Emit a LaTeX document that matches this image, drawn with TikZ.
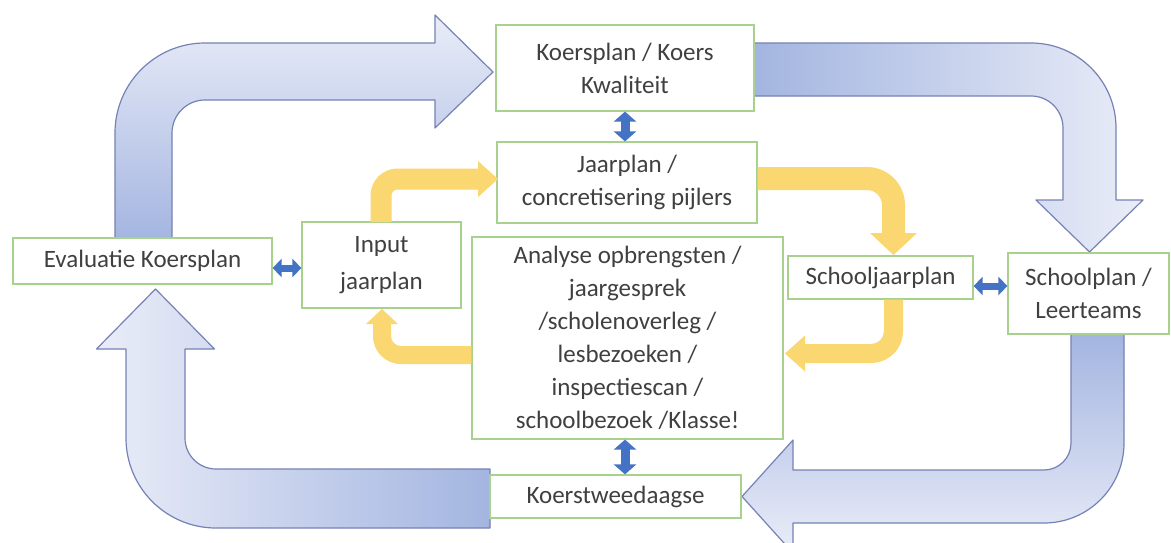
\documentclass[tikz,border=0pt]{standalone}
\usepackage{fontspec}
\setmainfont{Carlito}
\usetikzlibrary{arrows.meta}
\definecolor{bdark}{RGB}{163,181,224}
\definecolor{blight}{RGB}{234,237,248}
\definecolor{bline}{RGB}{118,130,182}
\definecolor{ylw}{RGB}{250,215,112}
\definecolor{gbox}{RGB}{169,209,142}
\definecolor{dblue}{RGB}{68,114,196}
\definecolor{txt}{RGB}{64,64,64}
\begin{document}
\begin{tikzpicture}[x=1pt,y=-1pt,
  box/.style={draw=gbox, line width=1.2pt, fill=white, inner sep=0pt, align=center,
              text=txt, font=\fontsize{25}{33}\selectfont},
  bigarrow/.style={draw=bline, line width=1.2pt, line join=round},
  ylwarrow/.style={fill=ylw},
  twoway/.style={dblue, line width=9pt, {Triangle[width=22pt,length=10pt]}-{Triangle[width=22pt,length=10pt]}},
  twowayh/.style={dblue, line width=7pt, {Triangle[width=18pt,length=9pt]}-{Triangle[width=18pt,length=9pt]}}
]
\clip (0,0) rectangle (1171,542);
\fill[white] (0,0) rectangle (1171,542);

% big blue arrows
\path[bigarrow, top color=blight, bottom color=bdark]
  (115,240) -- (115,133) .. controls (115,83.3) and (155.3,43) .. (205,43) -- (435,43)
  -- (435,15) -- (493,72) -- (435,128) -- (435,100) -- (205,100)
  .. controls (186.8,100) and (172,114.8) .. (172,133) -- (172,240) -- cycle;
\path[bigarrow, left color=bdark, right color=blight]
  (754,43) -- (1031,43) .. controls (1077.9,43) and (1116,81.1) .. (1116,128) -- (1116,200)
  -- (1143,200) -- (1089.5,252) -- (1036,200) -- (1063,200) -- (1063,128)
  .. controls (1063,110.3) and (1048.7,96) .. (1031,96) -- (754,96) -- cycle;
\path[bigarrow, top color=bdark, bottom color=blight]
  (1071,334) -- (1071,443) .. controls (1071,457.9) and (1058.9,470) .. (1044,470) -- (793,470)
  -- (793,440) -- (742,496.5) -- (793,553) -- (793,523) -- (1044,523)
  .. controls (1088.2,523) and (1124,487.2) .. (1124,443) -- (1124,334) -- cycle;
\path[bigarrow, left color=blight, right color=bdark]
  (490,469) -- (216,469) .. controls (198.9,469) and (185,455.1) .. (185,438) -- (185,349)
  -- (214.5,349) -- (155.5,289) -- (96.5,349) -- (126,349) -- (126,438)
  .. controls (126,487.7) and (166.3,528) .. (216,528) -- (490,528) -- cycle;

% boxes
\node[box, minimum width=259pt, minimum height=46pt] (eval) at (142.5,261) {Evaluatie Koersplan};
\node[box, minimum width=159pt, minimum height=86pt] (input) at (381.5,265) {Input\\[4pt]jaarplan};
\node[box, minimum width=258pt, minimum height=86pt] (koers) at (625,68) {Koersplan / Koers\\Kwaliteit};
\node[box, minimum width=260pt, minimum height=81pt] (jaar) at (627,182.5) {Jaarplan /\\concretisering pijlers};
\node[box, minimum width=311pt, minimum height=202pt] (analyse) at (627.5,338)
  {Analyse opbrengsten /\\jaargesprek\\/scholenoverleg /\\lesbezoeken /\\inspectiescan /\\schoolbezoek /Klasse!};
\node[box, minimum width=185pt, minimum height=43pt] (sjp) at (880.5,277.5) {Schooljaarplan};
\node[box, minimum width=161pt, minimum height=81pt] (school) at (1088.5,293.5) {Schoolplan /\\Leerteams};
\node[box, minimum width=251pt, minimum height=43pt] (tweed) at (615.5,496.5) {Koerstweedaagse};

% yellow arrows
\fill[ylwarrow]
  (370.5,222) -- (370.5,195.5) .. controls (370.5,180.6) and (382.6,168.5) .. (397.5,168.5)
  -- (478,168.5) -- (478,161) -- (498,179) -- (478,197) -- (478,189.5) -- (397.5,189.5)
  .. controls (394.2,189.5) and (391.5,192.2) .. (391.5,195.5) -- (391.5,222) -- cycle;
\fill[ylwarrow]
  (757.6,167) -- (867,167) .. controls (888,167) and (905,184) .. (905,205) -- (905,233)
  -- (917,233) -- (893.5,255) -- (870,233) -- (882,233) -- (882,205)
  .. controls (882,196.7) and (875.3,190) .. (867,190) -- (757.6,190) -- cycle;
\fill[ylwarrow]
  (884,299.6) -- (884,331) .. controls (884,338.2) and (878.2,344) .. (871,344) -- (805,344)
  -- (805,335.5) -- (785,353.5) -- (805,371.5) -- (805,363) -- (871,363)
  .. controls (888.7,363) and (903,348.7) .. (903,331) -- (903,299.6) -- cycle;
\fill[ylwarrow]
  (471.4,346) -- (401,346) .. controls (395.5,346) and (391,341.5) .. (391,336) -- (391,324)
  -- (398,324) -- (382,309) -- (366,324) -- (373,324) -- (373,336)
  .. controls (373,351.5) and (385.5,364) .. (401,364) -- (471.4,364) -- cycle;

% small two-way arrows
\coordinate (vx) at (625,0);
\coordinate (h1) at (0,268);
\coordinate (h2) at (0,286);
\draw[twoway] (koers.south -| vx) -- (jaar.north -| vx);
\draw[twoway] (analyse.south -| vx) -- (tweed.north -| vx);
\draw[twowayh] (eval.east |- h1) -- (input.west |- h1);
\draw[twowayh] (sjp.east |- h2) -- (school.west |- h2);
\end{tikzpicture}
\end{document}
